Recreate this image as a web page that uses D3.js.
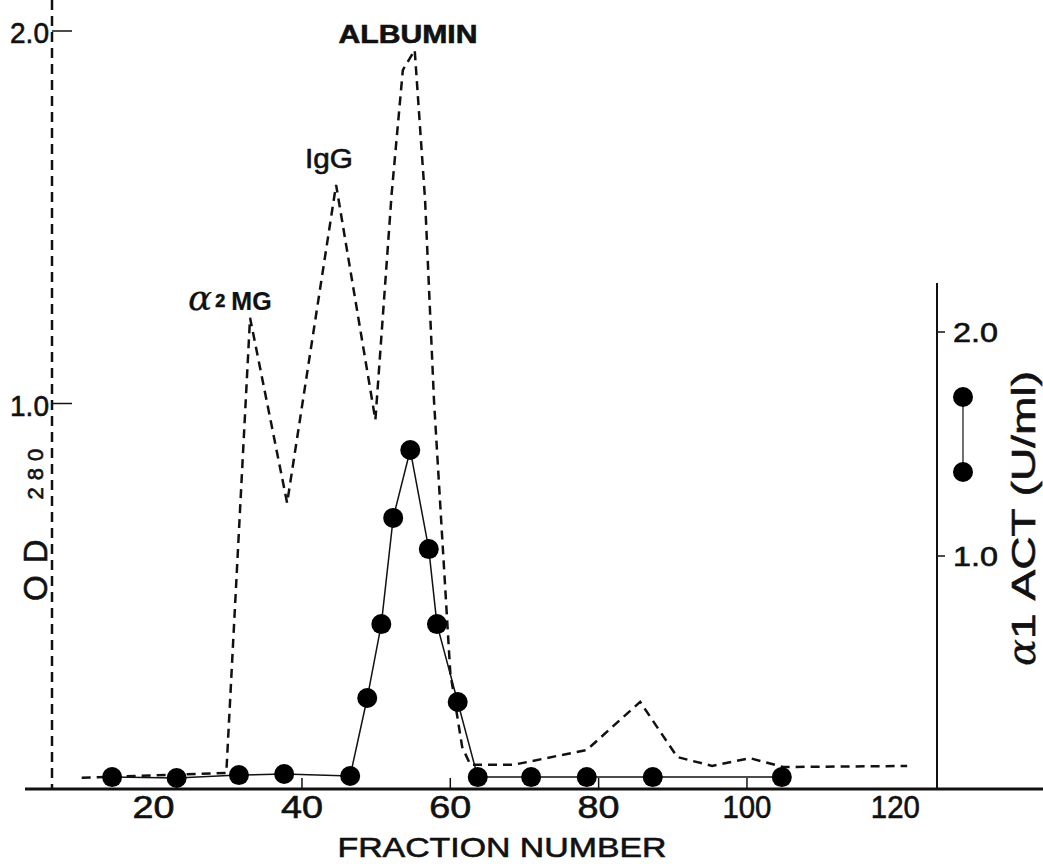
<!doctype html>
<html>
<head>
<meta charset="UTF-8" />
<title>OD280 and alpha1 ACT by fraction</title>
<style type="text/css">
body {
	margin: 0;
	background: #fff;
}

svg text {
	font-family: "Liberation Sans", Arial, sans-serif;
	fill: #111;
	stroke: #111;
	stroke-width: 0.6px;
}

.od {
	fill: none;
	stroke: #111;
	stroke-width: 2.5px;
	stroke-dasharray: 9, 6;
}

.act {
	fill: none;
	stroke: #111;
	stroke-width: 1.5px;
}

.dot {
	fill: #000;
}
</style>
<script src="https://d3js.org/d3.v7.min.js"></script>
</head>
<body>
<div class="container"></div>
<script>
	// OD280 (dashed)
	var fractionOD = [10.3, 29.8, 33.0, 38.0, 44.6, 49.9, 52.1, 53.6, 55.2, 56.6, 57.8, 60.0, 61.6, 62.7, 68.5, 78.4, 85.6, 90.6, 95.3, 100.4, 104.9, 121.6];
	var od280 = [-0.005, 0.008, 1.23, 0.733, 1.587, 0.956, 1.565, 1.895, 1.949, 1.546, 1.009, 0.277, 0.078, 0.03, 0.03, 0.07, 0.199, 0.051, 0.027, 0.048, 0.024, 0.027];

	// alpha1 ACT activity (U/ml), dots joined by a solid line
	var fractionACT = [14.4, 23.1, 31.5, 37.6, 46.5, 48.8, 50.7, 52.3, 54.6, 57.1, 58.2, 61.0, 63.7, 70.9, 78.4, 87.3, 104.7];
	var act = [0.013, 0.009, 0.022, 0.027, 0.018, 0.366, 0.696, 1.17, 1.473, 1.031, 0.696, 0.348, 0.013, 0.013, 0.013, 0.013, 0.013];

	var xTickLabels = [20, 40, 60, 80, 100, 120];
	var xTickMarks = [40, 60, 80, 100];
	var leftTicks = [1.0, 2.0];
	var rightTicks = [1.0, 2.0];

	var width = 1043,
		height = 864,
		baseY = 789;

	var x = d3.scaleLinear().domain([0, 120]).range([5.3, 895.3]);
	var yL = d3.scaleLinear().domain([0, 2]).range([776, 31]);
	var yR = d3.scaleLinear().domain([0, 2]).range([780, 332]);

	var svg = d3.select(".container").append("svg")
		.attr("width", width)
		.attr("height", height);

	var odData = fractionOD.map(function(f, i) { return {f: f, v: od280[i]}; });
	var actData = fractionACT.map(function(f, i) { return {f: f, v: act[i]}; });

	// left dashed axis
	svg.append("line")
		.attr("x1", 52).attr("x2", 52)
		.attr("y1", 0).attr("y2", baseY)
		.attr("stroke", "#111")
		.attr("stroke-width", 2.5)
		.attr("stroke-dasharray", "10,6");

	svg.selectAll(".ltick")
		.data(leftTicks)
		.enter().append("line")
		.attr("class", "ltick")
		.attr("x1", 52).attr("x2", 72)
		.attr("y1", function(d) { return yL(d); })
		.attr("y2", function(d) { return yL(d); })
		.attr("stroke", "#111")
		.attr("stroke-width", 1.5);

	svg.selectAll(".llabel")
		.data(leftTicks)
		.enter().append("text")
		.attr("class", "llabel")
		.attr("x", 49)
		.attr("y", function(d) { return yL(d) + 12; })
		.attr("text-anchor", "end")
		.attr("font-size", 30)
		.attr("textLength", 39)
		.attr("lengthAdjust", "spacingAndGlyphs")
		.text(function(d) { return d.toFixed(1); });

	// left axis title
	var odTitle = svg.append("text")
		.attr("transform", "translate(47,601) rotate(-90)")
		.attr("font-size", 33)
		.attr("letter-spacing", 12);
	odTitle.append("tspan").text("OD");
	odTitle.append("tspan")
		.attr("font-size", 22)
		.attr("letter-spacing", 7)
		.attr("dx", 28)
		.attr("dy", -4)
		.text("280");

	// right axis
	svg.append("line")
		.attr("x1", 937).attr("x2", 937)
		.attr("y1", 283).attr("y2", baseY)
		.attr("stroke", "#111")
		.attr("stroke-width", 2);

	svg.selectAll(".rtick")
		.data(rightTicks)
		.enter().append("line")
		.attr("class", "rtick")
		.attr("x1", 937).attr("x2", 945)
		.attr("y1", function(d) { return yR(d); })
		.attr("y2", function(d) { return yR(d); })
		.attr("stroke", "#111")
		.attr("stroke-width", 1.5);

	svg.selectAll(".rlabel")
		.data(rightTicks)
		.enter().append("text")
		.attr("class", "rlabel")
		.attr("x", 953)
		.attr("y", function(d) { return yR(d) + 10; })
		.attr("font-size", 27)
		.attr("textLength", 45)
		.attr("lengthAdjust", "spacingAndGlyphs")
		.text(function(d) { return d.toFixed(1); });

	var actTitle = svg.append("text")
		.attr("transform", "translate(1035,666) rotate(-90)")
		.attr("font-size", 33);
	actTitle.append("tspan")
		.attr("font-family", "DejaVu Serif")
		.attr("font-style", "italic")
		.attr("font-size", 40)
		.attr("stroke-width", 0.3)
		.text("\u03b1");
	actTitle.append("tspan")
		.attr("textLength", 268)
		.attr("lengthAdjust", "spacingAndGlyphs")
		.text("1 ACT (U/ml)");

	// legend
	svg.append("line")
		.attr("x1", 963).attr("x2", 963)
		.attr("y1", 397).attr("y2", 472)
		.attr("stroke", "#111")
		.attr("stroke-width", 1.2);
	svg.selectAll(".ldot")
		.data([397, 472])
		.enter().append("circle")
		.attr("class", "dot")
		.attr("cx", 963)
		.attr("cy", function(d) { return d; })
		.attr("r", 10);

	// bottom axis
	svg.append("line")
		.attr("x1", 25).attr("x2", width)
		.attr("y1", baseY).attr("y2", baseY)
		.attr("stroke", "#111")
		.attr("stroke-width", 3);

	svg.selectAll(".xtick")
		.data(xTickMarks)
		.enter().append("line")
		.attr("class", "xtick")
		.attr("x1", function(d) { return x(d); })
		.attr("x2", function(d) { return x(d); })
		.attr("y1", baseY).attr("y2", baseY - 11)
		.attr("stroke", "#111")
		.attr("stroke-width", 1.5);

	svg.selectAll(".xlabel")
		.data(xTickLabels)
		.enter().append("text")
		.attr("class", "xlabel")
		.attr("x", function(d) { return x(d); })
		.attr("y", 818)
		.attr("text-anchor", "middle")
		.attr("font-size", 32)
		.attr("textLength", function(d) { return d >= 100 ? 49 : 42; })
		.attr("lengthAdjust", "spacingAndGlyphs")
		.text(function(d) { return d; });

	svg.append("text")
		.attr("x", 502)
		.attr("y", 857)
		.attr("text-anchor", "middle")
		.attr("font-size", 28)
		.attr("stroke-width", 0.9)
		.attr("textLength", 329)
		.attr("lengthAdjust", "spacingAndGlyphs")
		.text("FRACTION NUMBER");

	// OD280 line
	var odLine = d3.line()
		.x(function(d) { return x(d.f); })
		.y(function(d) { return yL(d.v); });

	svg.append("path")
		.datum(odData)
		.attr("class", "od")
		.attr("d", odLine);

	// alpha1 ACT line and dots
	var actLine = d3.line()
		.x(function(d) { return x(d.f); })
		.y(function(d) { return yR(d.v); });

	svg.append("path")
		.datum(actData)
		.attr("class", "act")
		.attr("d", actLine);

	svg.selectAll(".adot")
		.data(actData)
		.enter().append("circle")
		.attr("class", "dot")
		.attr("cx", function(d) { return x(d.f); })
		.attr("cy", function(d) { return yR(d.v); })
		.attr("r", 10);

	// peak labels
	svg.append("text")
		.attr("x", 408)
		.attr("y", 43)
		.attr("text-anchor", "middle")
		.attr("font-size", 25)
		.attr("font-weight", "bold")
		.attr("stroke-width", 0.2)
		.attr("textLength", 139)
		.attr("lengthAdjust", "spacingAndGlyphs")
		.text("ALBUMIN");

	svg.append("text")
		.attr("x", 305)
		.attr("y", 168)
		.attr("font-size", 27)
		.attr("stroke-width", 1)
		.attr("textLength", 48)
		.attr("lengthAdjust", "spacingAndGlyphs")
		.text("IgG");

	var mgLabel = svg.append("text")
		.attr("x", 188)
		.attr("y", 310);
	mgLabel.append("tspan")
		.attr("font-family", "DejaVu Serif")
		.attr("font-style", "italic")
		.attr("font-size", 36)
		.attr("stroke-width", 0.2)
		.text("\u03b1");
	mgLabel.append("tspan")
		.attr("font-size", 18)
		.attr("font-weight", "bold")
		.attr("dx", 3)
		.attr("dy", -3)
		.text("2");
	mgLabel.append("tspan")
		.attr("font-size", 25)
		.attr("font-weight", "bold")
		.attr("stroke-width", 0.2)
		.attr("dx", 6)
		.attr("dy", 3)
		.text("MG");
</script>
</body>
</html>
